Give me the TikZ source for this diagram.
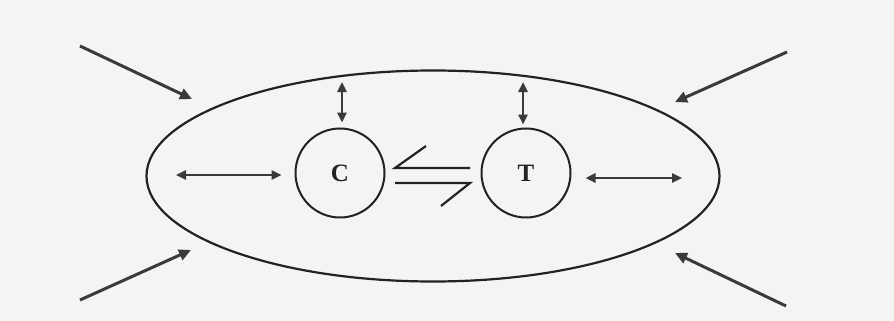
\documentclass[tikz,border=0pt]{standalone}
\usepackage{fontspec}
\setmainfont{Liberation Serif}
\usepackage{tikz}
\usetikzlibrary{arrows.meta,shapes.geometric}
\definecolor{PaperGrey}{HTML}{F4F4F3}
\definecolor{InkDark}{HTML}{222222}
\definecolor{InkArrow}{HTML}{3A3A3A}

\begin{document}
\begin{tikzpicture}[x=1pt,y=-1pt,
    pool/.style={circle,draw=InkDark,line width=2pt,minimum size=89pt,inner sep=0pt,
      font=\fontsize{25}{29}\selectfont\bfseries,text=InkDark},
    twoway/.style={{Triangle[length=10pt,width=9pt]}-{Triangle[length=10pt,width=9pt]},
      InkArrow,line width=2.4pt},
    inflow/.style={-{Triangle[length=12pt,width=11pt]},InkArrow,line width=3pt},
    harpoon/.style={InkDark,line width=2.2pt,line join=miter}]
    \fill[PaperGrey] (0,0) rectangle (894,321);
    \useasboundingbox (0,0) rectangle (894,321);
    % the cell
    \node[ellipse,draw=InkDark,line width=2.2pt,minimum width=573pt,minimum height=211pt,
      inner sep=0pt] (cell) at (433,176) {};
    \node[pool] (c) at (340,173) {C};
    \node[pool] (t) at (526,173) {T};
    % exchange with the cell
    \coordinate (ctop) at (342,82);
    \coordinate (ttop) at (523,82);
    \coordinate (cleft) at (176,175);
    \coordinate (tright) at (682,178);
    \draw[twoway,shorten >=5pt] (ctop) -- (ctop |- c.north);
    \draw[twoway,shorten >=3pt] (ttop) -- (ttop |- t.north);
    \draw[twoway,shorten >=13pt] (cleft) -- (cleft -| c.west);
    \draw[twoway,shorten <=14pt] (tright -| t.east) -- (tright);
    % equilibrium C <=> T
    \coordinate (eqtop) at (395,168);
    \coordinate (eqlow) at (470,183);
    \draw[harpoon] (eqtop -| eqlow) -- (eqtop) -- ++(31,-22);
    \draw[harpoon] (eqlow -| eqtop) -- (eqlow) -- ++(-29,23);
    % outside influences
    \coordinate (nw) at (80,46);
    \coordinate (nwtip) at (192,99);
    \coordinate (ne) at (787,52);
    \coordinate (netip) at (675,102);
    \coordinate (sw) at (80,300);
    \coordinate (swtip) at (191,250);
    \coordinate (se) at (786,306);
    \coordinate (setip) at (675,253);
    \draw[inflow] (nw) -- (nwtip);
    \draw[inflow] (ne) -- (netip);
    \draw[inflow] (sw) -- (swtip);
    \draw[inflow] (se) -- (setip);
  \end{tikzpicture}
\end{document}
